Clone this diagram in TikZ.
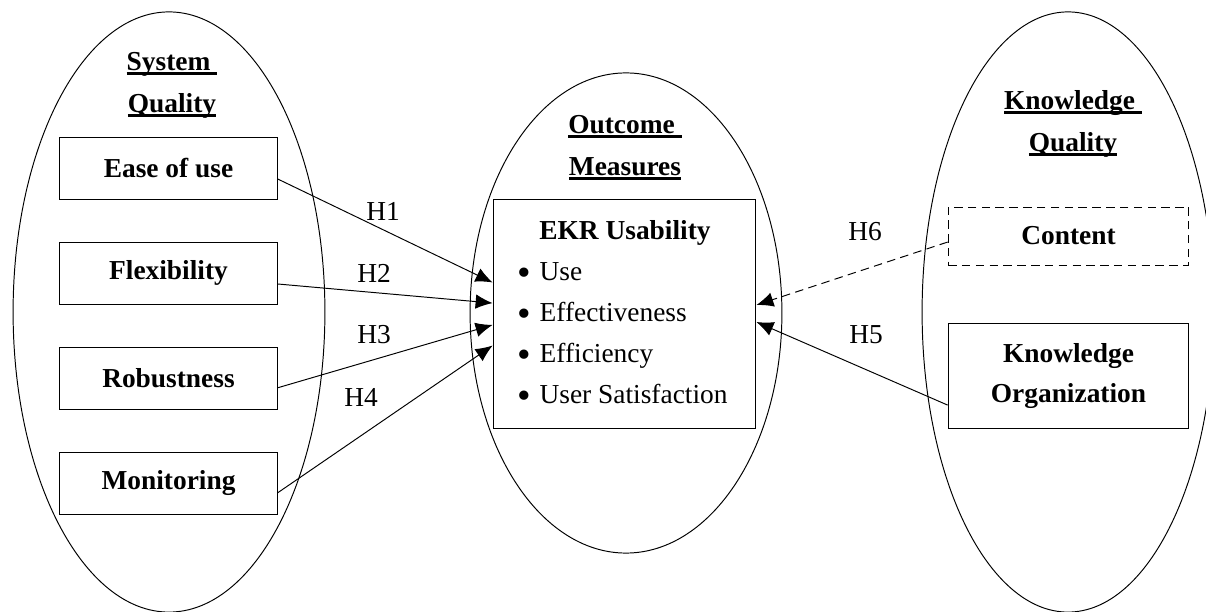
\documentclass[tikz,border=0pt]{standalone}
\usepackage{fontspec}
\setmainfont{Liberation Serif}
\usetikzlibrary{shapes.geometric, positioning, arrows.meta}
% thick underline sitting close to the baseline
\newcommand{\headul}[1]{\setbox0\hbox{#1}\rlap{\rule[-1.9pt]{\wd0}{1.2pt}}\box0}
% larger list bullet
\newcommand{\listdot}{\raisebox{-1.8pt}{\fontsize{16}{16}\selectfont\textbullet}\hspace{3.5pt}}
\tikzset{
    x=0.0145cm, y=-0.0145cm, % one unit is one pixel of the layout
    >={Latex[length=7pt,width=6pt]}, % filled arrow heads
    line width=0.95pt,
    every node/.style={font=\fontsize{11.3}{14}\selectfont}, % Times-like text
    group/.style={ellipse, draw, inner sep=0pt}, % the three construct ellipses
    heading/.style={align=center, font=\fontsize{11.3}{17.3}\selectfont\bfseries},
    factor/.style={draw, font=\fontsize{11.3}{16.5}\selectfont\bfseries, align=center, minimum width=3.147cm, minimum height=0.899cm},
    kfactor/.style={factor, minimum width=3.49cm},
    hypo/.style={->}, % hypothesis connector
    hlabel/.style={inner sep=1pt},
}

\begin{document}
\begin{tikzpicture}
        \useasboundingbox (0,0) rectangle (1206,612);

        % construct ellipses
        \node[group, minimum width=4.52cm, minimum height=8.7cm]  (SYSQ) at (169,312) {};
        \node[group, minimum width=4.52cm, minimum height=6.96cm] (OUTM) at (626,313) {};
        \node[group, minimum width=4.23cm, minimum height=8.7cm]  (KNWQ) at (1068,312) {};

        % headings
        \node[heading] (SYSQ_T) at (172,85)   {\headul{System\ }\\\headul{Quality}};
        \node[heading] (OUTM_T) at (625,148)  {\headul{Outcome\ }\\\headul{Measures}};
        \node[heading] (KNWQ_T) at (1073,124) {\headul{Knowledge\ }\\\headul{Quality}};

        % system quality factors
        \node[factor] (EASE) at (168.5,168) {Ease of use};
        \node[factor, below=0.61cm of EASE] (FLEX) {Flexibility};
        \node[factor, below=0.61cm of FLEX] (ROBU) {Robustness};
        \node[factor, below=0.61cm of ROBU] (MONI) {Monitoring};

        % outcome box
        \node[draw, minimum width=3.81cm, minimum height=3.31cm] (EKR) at (624.5,314) {};
        \node[font=\fontsize{11.3}{14}\selectfont\bfseries] (EKR_T) at (625,233) {EKR Usability};
        \node[anchor=west, align=left, font=\fontsize{11.3}{16.9}\selectfont] (EKR_L) at (509,335.5)
            {\listdot Use\\
             \listdot Effectiveness\\
             \listdot Efficiency\\
             \listdot User Satisfaction};

        % knowledge quality factors
        \node[kfactor, minimum height=0.841cm, dash pattern=on 3.5pt off 2.2pt] (CONT) at (1068.5,236) {Content};
        \node[kfactor, minimum height=1.52cm] (KORG) at (1068.5,376) {Knowledge\\Organization};

        % draw hypotheses
        \draw[hypo] ([yshift=-4.5pt]EASE.east) -- ([yshift=13pt]EKR.west);
        \draw[hypo] ([yshift=-4.5pt]FLEX.east) -- ([yshift=4.5pt]EKR.west);
        \draw[hypo] ([yshift=-4pt]ROBU.east)   -- ([yshift=-4.5pt]EKR.west);
        \draw[hypo] ([yshift=-4pt]MONI.east)   -- ([yshift=-13pt]EKR.west);
        \draw[hypo, dash pattern=on 3.5pt off 2.2pt] ([yshift=-2.5pt]CONT.west) -- ([yshift=3.7pt]EKR.east);
        \draw[hypo] ([yshift=-12pt]KORG.west) -- ([yshift=-3.3pt]EKR.east);

        % hypothesis labels
        \node[hlabel] (H1) at (383,211) {H1};
        \node[hlabel] (H2) at (374,273) {H2};
        \node[hlabel] (H3) at (374,335) {H3};
        \node[hlabel] (H4) at (361,397) {H4};
        \node[hlabel] (H6) at (865,232) {H6};
        \node[hlabel] (H5) at (866,335) {H5};
    \end{tikzpicture}
\end{document}
